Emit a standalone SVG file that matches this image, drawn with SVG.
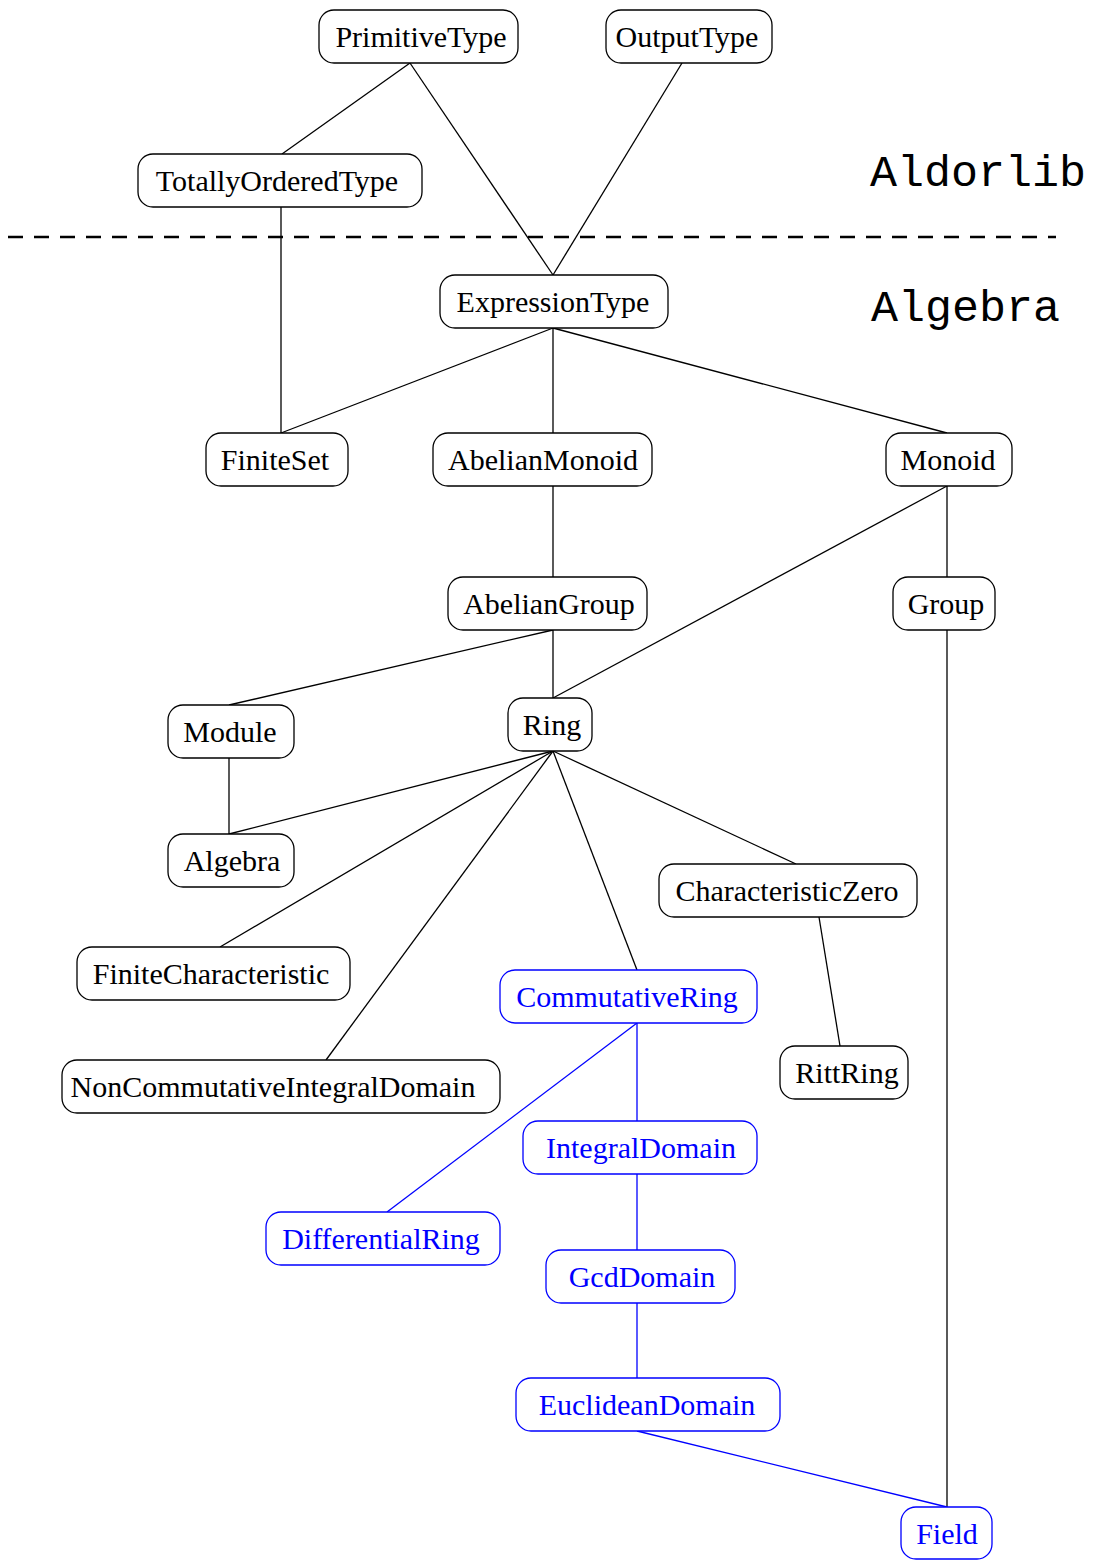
<svg xmlns="http://www.w3.org/2000/svg" width="1096" height="1560" viewBox="0 0 1096 1560">
<style>
.n rect{fill:#fff;stroke:#000;stroke-width:1.3}
text{font-family:"Liberation Serif","Times New Roman",serif;font-size:30px;text-anchor:middle;fill:#000}
.b rect{stroke:#0000ff}
.b text{fill:#0000ff}
.e line{stroke:#000;stroke-width:1.3}
.e .bl{stroke:#0000ff}
.lab{font-family:"Liberation Mono","Courier New",monospace;font-size:45px;text-anchor:start}
</style>
<rect width="1096" height="1560" fill="#fff"/>
<line x1="8" y1="237" x2="1056" y2="237" stroke="#000" stroke-width="2.5" stroke-dasharray="15 11"/>
<text class="lab" x="870" y="186">Aldorlib</text>
<text class="lab" x="871" y="321">Algebra</text>
<g class="e">
<line x1="410" y1="63" x2="282" y2="154"/>
<line x1="410" y1="63" x2="553" y2="275"/>
<line x1="682" y1="63" x2="553" y2="275"/>
<line x1="281" y1="207" x2="281" y2="433"/>
<line x1="553" y1="328" x2="281" y2="433"/>
<line x1="553" y1="328" x2="553" y2="433"/>
<line x1="553" y1="328" x2="947" y2="433"/>
<line x1="553" y1="486" x2="553" y2="577"/>
<line x1="947" y1="486" x2="947" y2="577"/>
<line x1="947" y1="486" x2="553" y2="698"/>
<line x1="553" y1="630" x2="553" y2="698"/>
<line x1="553" y1="630" x2="229" y2="705"/>
<line x1="229" y1="758" x2="229" y2="834"/>
<line x1="553" y1="751" x2="229" y2="834"/>
<line x1="553" y1="751" x2="220" y2="947"/>
<line x1="553" y1="751" x2="326" y2="1060"/>
<line x1="553" y1="751" x2="637" y2="970"/>
<line x1="553" y1="751" x2="796" y2="864"/>
<line x1="819" y1="917" x2="840" y2="1046"/>
<line x1="947" y1="630" x2="947" y2="1507"/>
<line class="bl" x1="637" y1="1023" x2="637" y2="1121"/>
<line class="bl" x1="637" y1="1023" x2="387" y2="1212"/>
<line class="bl" x1="637" y1="1174" x2="637" y2="1250"/>
<line class="bl" x1="637" y1="1303" x2="637" y2="1378"/>
<line class="bl" x1="637" y1="1431" x2="947" y2="1507"/>
</g>
<g id="PrimitiveType" class="n"><rect x="319" y="10" width="199" height="53" rx="15"/><text x="421" y="47">PrimitiveType</text></g>
<g id="OutputType" class="n"><rect x="606" y="10" width="166" height="53" rx="15"/><text x="687" y="47">OutputType</text></g>
<g id="TotallyOrderedType" class="n"><rect x="138" y="154" width="284" height="53" rx="15"/><text x="277" y="191">TotallyOrderedType</text></g>
<g id="ExpressionType" class="n"><rect x="440" y="275" width="228" height="53" rx="15"/><text x="553" y="312">ExpressionType</text></g>
<g id="FiniteSet" class="n"><rect x="206" y="433" width="142" height="53" rx="15"/><text x="275" y="470">FiniteSet</text></g>
<g id="AbelianMonoid" class="n"><rect x="433" y="433" width="219" height="53" rx="15"/><text x="543" y="470">AbelianMonoid</text></g>
<g id="Monoid" class="n"><rect x="886" y="433" width="126" height="53" rx="15"/><text x="948" y="470">Monoid</text></g>
<g id="AbelianGroup" class="n"><rect x="448" y="577" width="199" height="53" rx="15"/><text x="549" y="614">AbelianGroup</text></g>
<g id="Group" class="n"><rect x="893" y="577" width="102" height="53" rx="15"/><text x="946" y="614">Group</text></g>
<g id="Module" class="n"><rect x="168" y="705" width="126" height="53" rx="15"/><text x="230" y="742">Module</text></g>
<g id="Ring" class="n"><rect x="508" y="698" width="84" height="53" rx="15"/><text x="552" y="735">Ring</text></g>
<g id="Algebra" class="n"><rect x="168" y="834" width="126" height="53" rx="15"/><text x="232" y="871">Algebra</text></g>
<g id="CharacteristicZero" class="n"><rect x="659" y="864" width="258" height="53" rx="15"/><text x="787" y="901">CharacteristicZero</text></g>
<g id="FiniteCharacteristic" class="n"><rect x="77" y="947" width="273" height="53" rx="15"/><text x="211" y="984">FiniteCharacteristic</text></g>
<g id="CommutativeRing" class="n b"><rect x="500" y="970" width="257" height="53" rx="15"/><text x="627" y="1007">CommutativeRing</text></g>
<g id="RittRing" class="n"><rect x="780" y="1046" width="128" height="53" rx="15"/><text x="847" y="1083">RittRing</text></g>
<g id="NonCommutativeIntegralDomain" class="n"><rect x="62" y="1060" width="438" height="53" rx="15"/><text x="273" y="1097">NonCommutativeIntegralDomain</text></g>
<g id="IntegralDomain" class="n b"><rect x="523" y="1121" width="234" height="53" rx="15"/><text x="641" y="1158">IntegralDomain</text></g>
<g id="DifferentialRing" class="n b"><rect x="266" y="1212" width="234" height="53" rx="15"/><text x="381" y="1249">DifferentialRing</text></g>
<g id="GcdDomain" class="n b"><rect x="546" y="1250" width="189" height="53" rx="15"/><text x="642" y="1287">GcdDomain</text></g>
<g id="EuclideanDomain" class="n b"><rect x="516" y="1378" width="264" height="53" rx="15"/><text x="647" y="1415">EuclideanDomain</text></g>
<g id="Field" class="n b"><rect x="901" y="1507" width="91" height="52" rx="15"/><text x="947" y="1544">Field</text></g>
</svg>
